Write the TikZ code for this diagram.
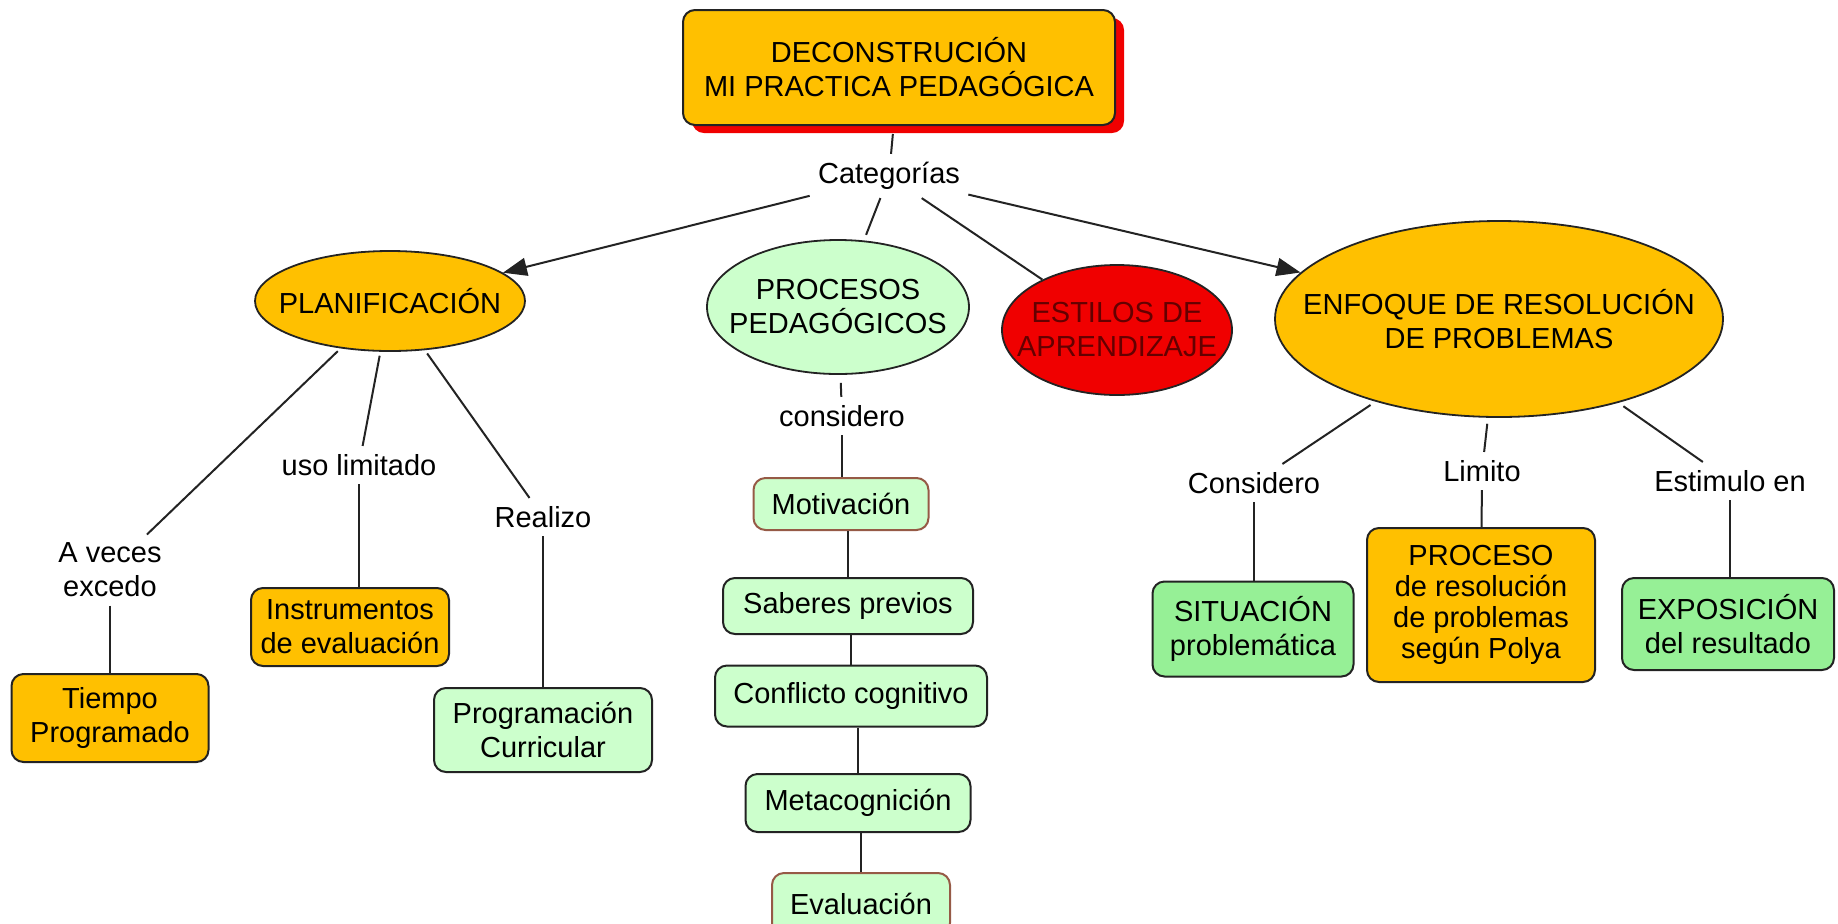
\documentclass[tikz,border=0pt]{standalone}
\usepackage{fontspec}
\setmainfont{Liberation Sans}
\usetikzlibrary{arrows.meta,shapes.geometric,shadows}
\definecolor{mapgold}{RGB}{255,192,0}
\definecolor{mappale}{RGB}{204,255,204}
\definecolor{mapgreen}{RGB}{150,240,150}
\definecolor{mapred}{RGB}{240,0,0}
\definecolor{mapmaroon}{RGB}{100,0,0}
\definecolor{mapbrown}{RGB}{150,90,70}
\definecolor{mapline}{RGB}{35,35,35}
\begin{document}
\begin{tikzpicture}[x=0.5pt,y=-0.5pt,
    font=\fontsize{14.5}{17}\selectfont,
    concept/.style={draw=mapline,line width=1pt,rounded corners=6pt,align=center,inner sep=0pt},
    oval/.style={ellipse,draw=mapline,line width=0.9pt,inner sep=0pt},
    linkword/.style={align=center,inner sep=4pt},
    link/.style={draw=mapline,line width=1pt},
    arrowlink/.style={link,-{Triangle[length=12pt,width=9pt]}}]
    \useasboundingbox (0,0) rectangle (1838,923);

    \node[concept,fill=mapgold,minimum width=216pt,minimum height=57.5pt,
        drop shadow={shadow xshift=4.5pt,shadow yshift=-4pt,fill=mapred,opacity=1}]
        (top) at (899,67.5) {DECONSTRUCIÓN\\MI PRACTICA PEDAGÓGICA};
    \node[linkword] (cat) at (889,176) {Categorías};

    \node[oval,fill=mapgold,minimum width=135pt,minimum height=50pt,
        label={center:PLANIFICACIÓN}] (planif) at (390,301) {};
    \node[oval,fill=mappale,minimum width=131pt,minimum height=67pt,
        label={[align=center]center:PROCESOS\\PEDAGÓGICOS}] (procesos) at (838,307) {};
    \node[oval,fill=mapred,minimum width=115pt,minimum height=65pt,
        label={[align=center,text=mapmaroon]center:ESTILOS DE\\APRENDIZAJE}] (estilos) at (1117,330) {};
    \node[oval,fill=mapgold,minimum width=224pt,minimum height=98pt,
        label={[align=center]center:ENFOQUE DE RESOLUCIÓN\\DE PROBLEMAS}] (enfoque) at (1499,319) {};

    % planificacion
    \node[linkword] (aveces) at (110,570) {A veces\\excedo};
    \node[linkword] (uso) at (359,465) {uso limitado};
    \node[linkword] (realizo) at (543,517) {Realizo};
    \node[concept,fill=mapgold,minimum width=98.5pt,minimum height=44pt] (tiempo) at (110,718) {Tiempo\\Programado};
    \node[concept,fill=mapgold,minimum width=99pt,minimum height=39pt] (instr) at (350,627) {Instrumentos\\de evaluación};
    \node[concept,fill=mappale,minimum width=109pt,minimum height=42pt] (progr) at (543,730) {Programación\\Curricular};

    % procesos pedagogicos
    \node[linkword] (considero) at (842,416) {considero};
    \node[concept,draw=mapbrown,fill=mappale,minimum width=87.5pt,minimum height=26pt] (motiv) at (841,504) {Motivación};
    \node[concept,fill=mappale,minimum width=125pt,minimum height=28pt] (saberes) at (848,606) {Saberes previos};
    \node[concept,fill=mappale,minimum width=136pt,minimum height=30.5pt] (conflicto) at (851,696) {Conflicto cognitivo};
    \node[concept,fill=mappale,minimum width=112.5pt,minimum height=29pt] (meta) at (858,803) {Metacognición};
    \node[concept,draw=mapbrown,fill=mappale,minimum width=89pt,minimum height=31pt] (evalu) at (861,904) {Evaluación};

    % enfoque
    \node[linkword] (considero2) at (1254,483) {Considero};
    \node[linkword] (limito) at (1482,471) {Limito};
    \node[linkword] (estimulo) at (1730,481) {Estimulo en};
    \node[concept,fill=mapgreen,minimum width=100.5pt,minimum height=47.5pt] (situacion) at (1253,629) {SITUACIÓN\\problemática};
    \node[concept,fill=mapgold,minimum width=114pt,minimum height=77pt,
        font=\fontsize{14.5}{15.5}\selectfont] (proceso) at (1481,605) {PROCESO\\de resolución\\de problemas\\según Polya};
    \node[concept,fill=mapgreen,minimum width=106pt,minimum height=46pt] (exposicion) at (1728,624) {EXPOSICIÓN\\del resultado};

    \draw[link,shorten <=4pt] (top) -- (cat);
    \draw[arrowlink] (cat) -- (planif);
    \draw[link,shorten >=3pt] (cat) -- (procesos);
    \draw[link] (cat) -- (estilos);
    \draw[arrowlink] (cat) -- (enfoque);

    \draw[link,shorten <=2pt] (planif) -- (aveces);
    \draw[link,shorten <=2pt] (planif) -- (uso);
    \draw[link,shorten <=2pt] (planif) -- (realizo);
    \draw[link] (aveces) -- (tiempo);
    \draw[link] (uso) -- (uso |- instr.north);
    \draw[link] (realizo) -- (progr);

    \draw[link,shorten <=4pt] (procesos) -- (considero);
    \draw[link] (considero) -- (considero |- motiv.north);
    \draw[link] (motiv.south -| saberes) -- (saberes);
    \draw[link] (saberes.south -| conflicto) -- (conflicto);
    \draw[link] (conflicto.south -| meta) -- (meta);
    \draw[link] (meta.south -| evalu) -- (evalu);

    \draw[link,shorten <=3pt] (enfoque) -- (considero2);
    \draw[link,shorten <=3pt] (enfoque) -- (limito);
    \draw[link,shorten <=3pt] (enfoque) -- (estimulo);
    \draw[link] (considero2) -- (considero2 |- situacion.north);
    \draw[link] (limito) -- (proceso);
    \draw[link] (estimulo) -- (estimulo |- exposicion.north);
\end{tikzpicture}
\end{document}
